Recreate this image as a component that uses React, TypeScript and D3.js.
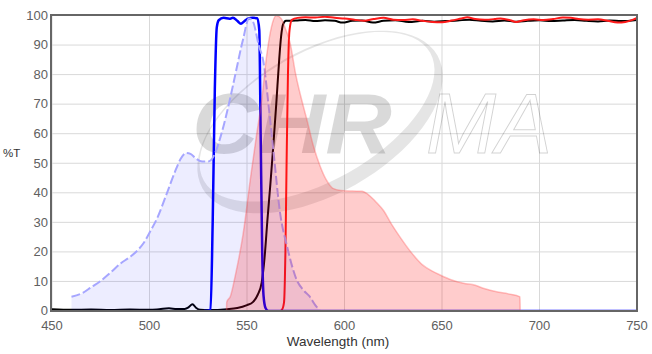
import React from "react";
import * as d3 from "d3";

type P = [number, number];

const xTicks = [450, 500, 550, 600, 650, 700, 750];
const yTicks = [0, 10, 20, 30, 40, 50, 60, 70, 80, 90, 100];

// Excitation spectrum (dashed, lavender fill)
const excitationSpectrum: P[] = [
  [460, 4.8], [466, 6.2], [470, 8], [475, 10.2], [480, 13], [485, 16], [490, 18.3], [494, 20.6],
  [497, 23], [500, 26.5], [504, 31.5], [509, 40], [513, 47], [516, 51.5], [519, 53.5], [521, 53.2],
  [524, 51.5], [527, 50.6], [530, 50.6], [533, 52.5], [536, 58], [540, 68], [544, 80], [548, 92],
  [551, 99], [553, 98], [556, 90], [558.5, 84], [561, 70], [563.5, 54.5], [567, 33], [570.5, 22],
  [575.5, 10.5], [579, 7], [582, 5], [585, 2], [587.5, 0],
];

// Emission spectrum (pink fill)
const emissionSpectrum: P[] = [
  [539.5, 0], [539.6, 3], [541.5, 5], [544, 12], [548, 26], [552, 46], [555, 60], [557.5, 71],
  [560, 86], [562.5, 96], [565, 100], [567.5, 99], [570, 95], [572, 91], [575, 80], [579, 69],
  [581, 64], [584, 56], [587.5, 49], [591, 44], [594, 41.5], [598, 40.8], [604, 40.6], [609, 40.5],
  [612, 39.5], [616, 37], [620, 34], [624, 29.5], [628.5, 25], [634, 20], [640, 15.6], [645, 13.5],
  [649, 12.2], [655, 10.5], [661, 9.4], [667, 8.7], [672, 7.5], [678, 6.5], [684, 5.8], [690, 4.8],
  [690.1, 0],
];

// Excitation filter (blue)
const excitationFilter: P[] = [
  [528, 0], [531.3, 0.3], [532.4, 30], [533.5, 75], [534.5, 96], [535.5, 98.4], [538, 99.2],
  [541, 98.9], [542.8, 99.2], [545, 98.2], [546.9, 97.2], [548.5, 98], [550.5, 98.9], [553, 99.2],
  [555.3, 99.1], [556.3, 95], [557, 60], [557.8, 20], [558.5, 5], [559.5, 1], [561, 0], [750, 0],
];

// Dichroic (black)
const dichroic: P[] = [
  [450, 0.6], [460, 0.4], [470, 0.5], [480, 0.3], [490, 0.5], [500, 0.4], [505, 0.6], [510, 0.9],
  [514, 0.7], [518, 0.7], [520, 1.2], [522, 2.3], [524, 1], [526, 0.4], [530, 0.3], [540, 0.6],
  [545, 1], [550, 2], [553, 3], [555.5, 5.5], [557.5, 9.5], [559, 18], [560.5, 31], [562, 43],
  [563.5, 56], [565, 70], [566.5, 85], [567.5, 93], [568.5, 97], [570, 98.2], [575, 98.3],
  [580, 98.5], [585, 98.1], [590, 98.4], [595, 98.2], [599, 97.6], [604, 98.2], [609, 98.3],
  [614.6, 97.6], [620, 98.2], [626, 98.4], [633, 97.8], [640, 98.2], [646, 97.9], [652, 98.1],
  [658, 98.3], [664, 98.6], [670, 98.2], [676, 98], [682, 98.3], [688, 97.9], [694, 98.2],
  [700, 98.4], [706, 98.1], [712, 98.3], [718, 98.5], [724, 98.2], [730, 98], [736, 98.3],
  [742, 98.1], [750, 98.5],
];

// Emission filter (red)
const emissionFilter: P[] = [
  [450, 0], [567, 0], [568, 0.5], [569, 3], [569.7, 20], [570.3, 50], [571, 80], [571.8, 95],
  [573, 98.5], [576, 99.2], [580, 99.4], [585, 99.3], [590, 99.6], [595, 99.2], [600, 99],
  [605, 98.6], [610, 98.2], [615, 98.8], [620, 99.2], [625, 98.6], [630, 98.5], [635, 98.7],
  [640, 98.2], [645, 97.8], [650, 97.7], [655, 98.3], [660, 99], [663, 99.4], [667, 98.8],
  [672, 98.6], [677, 98.8], [680, 99], [685, 98.4], [688, 97.8], [692, 98.4], [697, 98.7],
  [702, 98.5], [707, 98.8], [712, 99.3], [716, 99.2], [720, 98.8], [725, 98.6], [730, 98.7],
  [735, 98.2], [740, 97.6], [744, 97.8], [748, 98.6], [750, 99.2],
];

const FONT = "'Liberation Sans', Arial, sans-serif";

function crescentPath(cx: number, cy: number, angleDeg: number) {
  const t = (angleDeg * Math.PI) / 180;
  const e1 = [Math.cos(t), Math.sin(t)];
  const e2 = [-Math.sin(t), Math.cos(t)];
  const ell = (a: number, b: number, dv: number) => {
    const pts: string[] = [];
    for (let i = 0; i <= 72; i++) {
      const th = (i / 72) * 2 * Math.PI;
      const u = a * Math.cos(th);
      const v = b * Math.sin(th) + dv;
      pts.push(`${(cx + u * e1[0] + v * e2[0]).toFixed(1)},${(cy + u * e1[1] + v * e2[1]).toFixed(1)}`);
    }
    return "M" + pts.join("L") + "Z";
  };
  return ell(135, 72, 0) + ell(130, 64, -6);
}

export default function App() {
  const left = 52, right = 637, top = 15.5, bottom = 311;
  const x = d3.scaleLinear().domain([450, 750]).range([left, right]);
  const y = d3.scaleLinear().domain([0, 100]).range([bottom, top]);
  const line = d3.line<P>().x((d) => x(d[0])).y((d) => y(d[1])).curve(d3.curveMonotoneX);
  const area = d3.area<P>().x((d) => x(d[0])).y0(y(0)).y1((d) => y(d[1])).curve(d3.curveMonotoneX);

  return (
    <svg width={652} height={354} style={{ position: "absolute", left: 0, top: 0, background: "#fff" }} fontFamily={FONT}>
      <defs>
        <clipPath id="plotClip">
          <rect x={left} y={top - 2} width={right - left} height={bottom - top + 3} />
        </clipPath>
      </defs>
      {/* grid */}
      {xTicks.map((t) => (
        <line key={"gx" + t} x1={x(t)} x2={x(t)} y1={top} y2={bottom} stroke="#d9d9d9" strokeWidth={1} />
      ))}
      {yTicks.map((t) => (
        <line key={"gy" + t} x1={left} x2={right} y1={y(t)} y2={y(t)} stroke="#d9d9d9" strokeWidth={1} />
      ))}
      {/* watermark */}
      <g>
        <path d={crescentPath(320, 122, -29.5)} fill="#000" fillOpacity={0.1} fillRule="evenodd" />
        <text x={192} y={153} fontSize={86} fontStyle="italic" fontWeight={900} fill="#000" fillOpacity={0.15}
          textLength={200} lengthAdjust="spacingAndGlyphs">
          CHR
        </text>
        <text x={426} y={153} fontSize={86} fontStyle="italic" fill="none" stroke="#000" strokeOpacity={0.18} strokeWidth={1}
          textLength={126} lengthAdjust="spacingAndGlyphs">
          MA
        </text>
      </g>
      <g clipPath="url(#plotClip)">
        {/* lines */}
        <path d={line(dichroic) || ""} fill="none" stroke="#000" strokeWidth={2} />
        <path d={line(emissionFilter) || ""} fill="none" stroke="#ff1a1a" strokeWidth={2} />
        <path d={line(excitationFilter) || ""} fill="none" stroke="#0000ff" strokeWidth={2.5} />
        {/* fills on top */}
        <path d={area(excitationSpectrum) || ""} fill="rgba(0,0,255,0.07)" stroke="none" />
        <path d={line(excitationSpectrum) || ""} fill="none" stroke="#a6a6ff" strokeWidth={2} strokeDasharray="9,3" />
        <path d={area(emissionSpectrum) || ""} fill="rgba(255,0,0,0.2)" stroke="rgba(255,80,80,0.35)" strokeWidth={1.5} />
      </g>
      {/* frame */}
      <rect x={51} y={15} width={586} height={296} fill="none" stroke="#666" strokeWidth={2} />
      {/* y ticks */}
      {yTicks.map((t) => (
        <text key={"yt" + t} x={48} y={y(t)} dy="0.33em" textAnchor="end" fontSize={13} fill="#606060">
          {t}
        </text>
      ))}
      {xTicks.map((t) => (
        <text key={"xt" + t} x={x(t)} y={330} textAnchor="middle" fontSize={13} fill="#606060">
          {t}
        </text>
      ))}
      <text x={338} y={345.5} textAnchor="middle" fontSize={13.5} fill="#333">
        Wavelength (nm)
      </text>
      <text x={3} y={153} dy="0.35em" fontSize={11.5} fill="#333">
        %T
      </text>
    </svg>
  );
}
